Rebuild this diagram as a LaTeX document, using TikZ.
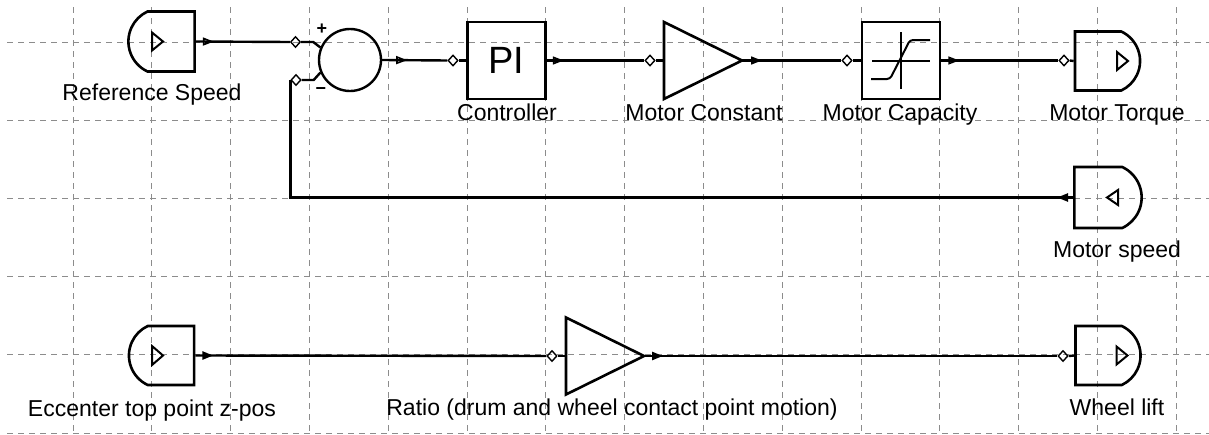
\documentclass[tikz,border=0pt]{standalone}
\usepackage{fontspec}
\setmainfont{Liberation Sans}
\usetikzlibrary{arrows.meta,shapes.geometric,shapes.misc,decorations.markings,calc}
\begin{document}
\begin{tikzpicture}[x=1pt,y=-1pt,
 gridline/.style={black!45,line width=0.9pt,dash pattern=on 6pt off 5pt},
 sig/.style={line width=2.4pt},
 blockline/.style={line width=2.6pt},
 portd/.style={diamond,draw,line width=1.4pt,inner sep=0pt,minimum width=10pt,minimum height=11pt},
 ghost/.style={inner sep=0pt,outer sep=0pt,draw=none},
 inport/.style={rounded rectangle,rounded rectangle east arc=none,rounded rectangle arc length=130,draw,line width=2.6pt,inner sep=0pt,minimum width=61pt,minimum height=60pt},
 outport/.style={rounded rectangle,rounded rectangle west arc=none,rounded rectangle arc length=130,draw,line width=2.6pt,inner sep=0pt,minimum width=61pt,minimum height=59pt},
 box/.style={draw,line width=2.6pt,inner sep=0pt,minimum width=78pt,minimum height=77pt},
 lab/.style={anchor=base,inner sep=0pt,font=\fontsize{23}{27}\selectfont},
 sym/.style={line width=2pt},
 openarr/.style={postaction={decorate},decoration={markings,mark=at position #1 with {\arrow{Triangle[open,length=11pt,width=8pt,line width=1.6pt]}}}},
 fullarr/.style={postaction={decorate},decoration={markings,mark=at position #1 with {\arrow{Triangle[length=11pt,width=8pt]}}}},
]
\useasboundingbox (0,0) rectangle (1209,434);
% grid
\foreach \i in {0,...,14} \draw[gridline] (73+78.8*\i,7) -- (73+78.8*\i,434);
\foreach \j in {0,...,5} \draw[gridline] (7,42+78.2*\j) -- (1209,42+78.2*\j);

% top row
\node[inport] (ref) at (161.5,41.5) {};
\draw[sym] ($(ref.center)+(-9.5,-9)$) -- ++(11,9) -- ++(-11,9) -- cycle;
\node[lab] (reflab) at (152,100) {Reference Speed};

\node[portd] (s1) at (295.5,42) {};
\node[portd] (s2) at (296,80) {};
\node[circle,draw,line width=2.4pt,minimum size=62pt,inner sep=0pt] (sum) at (350,60) {};
\node[font=\bfseries\fontsize{18}{18}\selectfont,inner sep=0pt] (plus) at (322,29) {+};
\node[font=\bfseries\fontsize{18}{18}\selectfont,inner sep=0pt] (minus) at (321,91) {−};

\node[portd] (pin) at (453,60.5) {};
\node[box,font=\fontsize{38}{38}\selectfont] (pi) at (506.5,60.5) {PI};
\node[lab] (pilab) at (507,120) {Controller};

\node[portd] (mcin) at (650,60.5) {};
\node[ghost,minimum width=78pt,minimum height=77pt] (mc) at (703,60.5) {};
\draw[blockline] (mc.north west) -- (mc.east) -- (mc.south west) -- cycle;
\node[lab] (mclab) at (704,120) {Motor Constant};

\node[portd] (satin) at (847,60.5) {};
\node[box] (sat) at (901,60.5) {};
\draw[sym] ($(sat.center)+(-29,0)$) -- ($(sat.center)+(29,0)$);
\draw[sym] ($(sat.center)+(0,-28.5)$) -- ($(sat.center)+(0,28.5)$);
\draw[sym,rounded corners=3pt] ($(sat.center)+(-30,18.5)$) -- ($(sat.center)+(-11,18.5)$) -- ($(sat.center)+(9,-20.5)$) -- ($(sat.center)+(29,-20.5)$);
\node[lab] (satlab) at (900,120) {Motor Capacity};

\node[portd] (mtin) at (1064,60.5) {};
\node[outport] (mt) at (1107.5,61) {};
\draw[sym] ($(mt.center)+(9.5,-9)$) -- ++(11,9) -- ++(-11,9) -- cycle;
\node[lab] (mtlab) at (1117,120) {Motor Torque};

% feedback source
\node[outport,minimum height=61pt] (ms) at (1108,197.5) {};
\draw[sym] ($(ms.center)+(10,-7.5)$) -- ++(-11,7.5) -- ++(11,7.5) -- cycle;
\node[lab] (mslab) at (1117,257) {Motor speed};

% bottom row
\node[inport,minimum height=59pt] (ecc) at (161.5,355.5) {};
\draw[sym] ($(ecc.center)+(-9.5,-9.5)$) -- ++(11,9.5) -- ++(-11,9.5) -- cycle;
\node[lab] (ecclab) at (152,416) {Eccenter top point z-pos};

\node[portd] (rin) at (552,356) {};
\node[ghost,minimum width=78pt,minimum height=77pt] (ratio) at (605,356) {};
\draw[blockline] (ratio.north west) -- (ratio.east) -- (ratio.south west) -- cycle;
\node[lab] (rlab) at (612,415) {Ratio (drum and wheel contact point motion)};

\node[portd] (wlin) at (1063,356) {};
\node[outport,minimum height=59pt] (wl) at (1108,355.5) {};
\draw[sym] ($(wl.center)+(8.5,-9)$) -- ++(11,9) -- ++(-11,9) -- cycle;
\node[lab] (wllab) at (1117,415) {Wheel lift};

% connectors
\draw[sig,openarr=18pt] (ref.east) -- (s1.west);
\draw[sig] (s1.east) -- ++(12,0) -- (sum.157);
\draw[sig] (s2.east) -- ++(12,0) -- (sum.203);
\draw[sig,openarr=25pt] (sum.east) -- (pin.west);
\draw[sig] (pin.east) -- (pi.west);
\draw[sig,openarr=17pt] (pi.east) -- (mcin.west);
\draw[sig] (mcin.east) -- (mc.west);
\draw[sig,openarr=20pt] (mc.east) -- (satin.west);
\draw[sig] (satin.east) -- (sat.west);
\draw[sig,openarr=18pt] (sat.east) -- (mtin.west);
\draw[sig] (mtin.east) -- (mt.west);
\draw[sig,fullarr=16pt] (ms.west) -| (s2.west);
\draw[sig,fullarr=18pt] (ecc.east) -- (rin.west);
\draw[sig] (rin.east) -- (ratio.west);
\draw[sig,fullarr=19pt] (ratio.east) -- (wlin.west);
\draw[sig] (wlin.east) -- (wl.west);
\end{tikzpicture}
\end{document}
